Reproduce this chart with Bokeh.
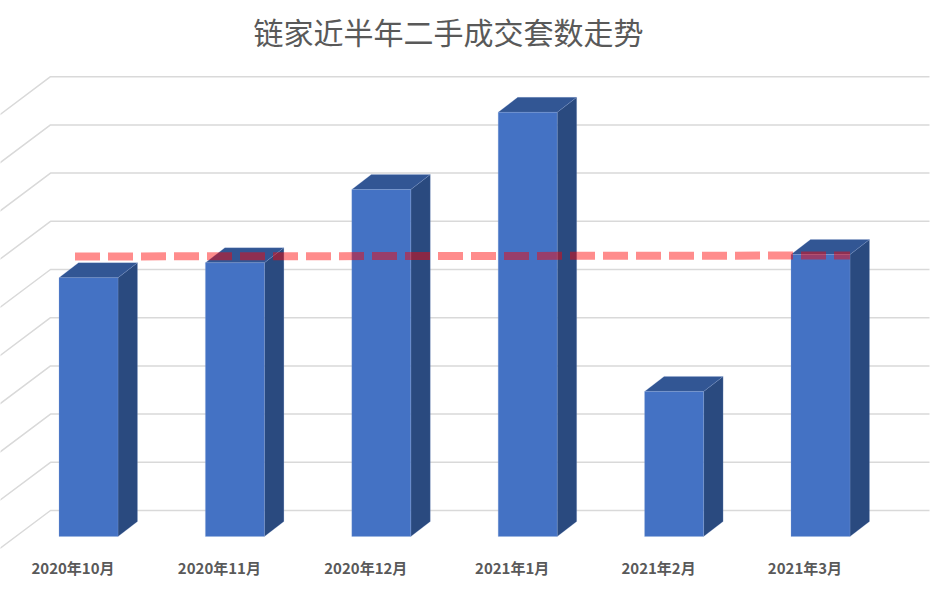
from bokeh.embed import file_html
from bokeh.models import BoxAnnotation, FixedTicker, LinearAxis, Range1d
from bokeh.plotting import figure
from bokeh.resources import INLINE

# --- data -----------------------------------------------------------------
title_text = "链家近半年二手成交套数走势"
months = ["2020年10月", "2020年11月", "2020年12月", "2021年1月", "2021年2月", "2021年3月"]
deals = [5370, 5680, 7200, 8800, 3010, 5850]
trend = [5810, 5830]
grid_levels = [0, 1000, 2000, 3000, 4000, 5000, 6000, 7000, 8000, 9000]

# --- scales: one category step = 146.4 px, 1000 deals = 48.2 px ------------
PX_X = 1 / 146.4
PX_Y = 1000 / 48.2
W, H = 932, 593
x_lo, x_hi = -88 * PX_X, 844 * PX_X
y_lo, y_hi = -14 * PX_Y, 476 * PX_Y

p = figure(
    width=W, height=H, output_backend="svg", toolbar_location=None,
    x_range=Range1d(x_lo, x_hi), y_range=Range1d(y_lo, y_hi),
    x_axis_type=None, y_axis_type=None,
    min_border_left=0, min_border_right=0, min_border_top=60, min_border_bottom=43,
    background_fill_color="white", border_fill_color="white",
)
p.outline_line_color = None
p.grid.visible = False

p.title.text = title_text
p.title.text_font = "Noto Sans CJK SC"
p.title.text_font_size = "30px"
p.title.text_font_style = "normal"
p.title.text_color = "#595959"
p.title.align = "left"
p.title.vertical_align = "middle"
p.title.offset = 253
p.title.standoff = 14

# chart-area edge along the top of the picture
p.add_layout(BoxAnnotation(left=0, right=W, top=0, bottom=1,
                           left_units="canvas", right_units="canvas",
                           top_units="canvas", bottom_units="canvas",
                           fill_color="#D9D9D9", fill_alpha=1, line_color=None))

# walls: back-wall rule plus the diagonal along the side wall
wall_x = -38 * PX_X
grid_xs, grid_ys = [], []
for g in grid_levels:
    base = g + 26 * PX_Y
    grid_xs.append([wall_x - 60 * PX_X, wall_x, 841 * PX_X])
    grid_ys.append([base - 45 * PX_Y, base, base])
p.multi_line(grid_xs, grid_ys, line_color="#D9D9D9", line_width=1.5)

# 3-D columns
half = 29.5 * PX_X
dx, dy = 19.5 * PX_X, 15 * PX_Y
idx = list(range(len(months)))
side_xs = [[i + half, i + half + dx, i + half + dx, i + half] for i in idx]
side_ys = [[0, dy, v + dy, v] for v in deals]
top_xs = [[i - half, i - half + dx, i + half + dx, i + half] for i in idx]
top_ys = [[v, v + dy, v + dy, v] for v in deals]
p.patches(side_xs, side_ys, fill_color="#2A4A7F", line_color="#8FAADC", line_width=0.5, line_alpha=0.4)
p.patches(top_xs, top_ys, fill_color="#325694", line_color="#8FAADC", line_width=0.5, line_alpha=0.4)
p.vbar(x=idx, top=deals, bottom=0, width=2 * half, fill_color="#4472C4",
       line_color="#8FAADC", line_width=0.5, line_alpha=0.5)

# dashed overlay
p.line([-13.5 * PX_X, 5 + 29.5 * PX_X], trend, line_color="#FF0000", line_alpha=0.45,
       line_width=8, line_dash="25 8", line_cap="butt")

# category axis
axis = LinearAxis(
    ticker=FixedTicker(ticks=[i - 15.5 * PX_X for i in idx]),
    major_label_overrides={i - 15.5 * PX_X: m for i, m in zip(idx, months)},
    axis_line_color=None, major_tick_line_color=None, minor_tick_line_color=None,
    major_label_text_font="Noto Sans CJK SC", major_label_text_font_style="bold",
    major_label_text_font_size="15px", major_label_text_color="#595959",
    major_label_standoff=0,
)
p.add_layout(axis, "below")

open("out.html", "w").write(file_html(p, INLINE))
